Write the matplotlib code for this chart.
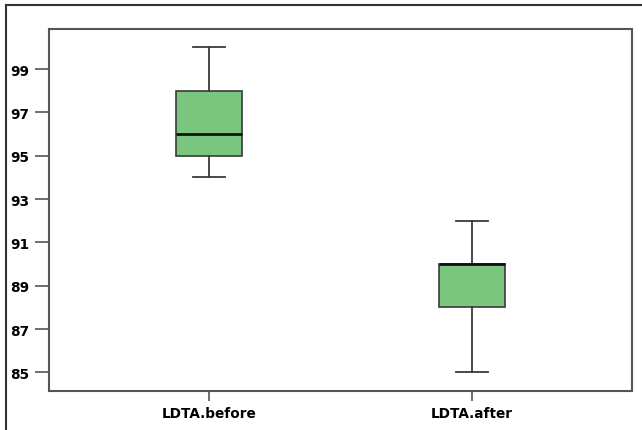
from matplotlib import pyplot as plt
from matplotlib.lines import Line2D

# valeurs
groupes = ["LDTA.before", "LDTA.after"]
minimums = [94, 85]
q1s = [95, 88]
medianes = [96, 90]
q3s = [98, 90]
maximums = [100, 92]

graduations = [85, 87, 89, 91, 93, 95, 97, 99]

stats = []
for i in range(len(groupes)):
	stats.append({
		"label": groupes[i],
		"whislo": minimums[i],
		"q1": q1s[i],
		"med": medianes[i],
		"q3": q3s[i],
		"whishi": maximums[i],
		"fliers": [],
	})

W, H = 642, 431
fig = plt.figure(figsize=(W / 100, H / 100), dpi=100)
ax = fig.add_axes([49 / W, 1 - 392 / H, (632 - 49) / W, (392 - 30) / H])

# cadre extérieur (haut et gauche seulement visibles)
fig.add_artist(Line2D([6 / W, 6 / W], [0, 1 - 6 / H], color="#333333", lw=1.5, transform=fig.transFigure))
fig.add_artist(Line2D([6 / W, 1], [1 - 6 / H, 1 - 6 / H], color="#333333", lw=1.5, transform=fig.transFigure))

ax.bxp(stats, positions=[1, 2], widths=0.25, patch_artist=True, showfliers=False,
	boxprops=dict(facecolor="#7bc67f", edgecolor="#3a3a3a", linewidth=1.2),
	medianprops=dict(color="#111111", linewidth=2),
	whiskerprops=dict(color="#3a3a3a", linewidth=1.3),
	capprops=dict(color="#3a3a3a", linewidth=1.3),
	capwidths=0.125)

ax.set_xlim(0.392, 2.608)
ax.set_ylim(84.14, 100.85)
ax.set_yticks(graduations)
ax.set_yticklabels([str(g) for g in graduations], fontweight="bold", fontsize=9.8, family="DejaVu Sans")
ax.set_xticks([1, 2])
ax.set_xticklabels(groupes, fontweight="bold", fontsize=9.8, family="DejaVu Sans")

for cote in ax.spines.values():
	cote.set_color("#555555")
	cote.set_linewidth(1.5)
ax.tick_params(axis="y", length=10, width=1.2, color="#555555", pad=4)
ax.tick_params(axis="x", length=7, width=1.2, color="#555555", pad=4)

fig.savefig("out.png", dpi=100)
